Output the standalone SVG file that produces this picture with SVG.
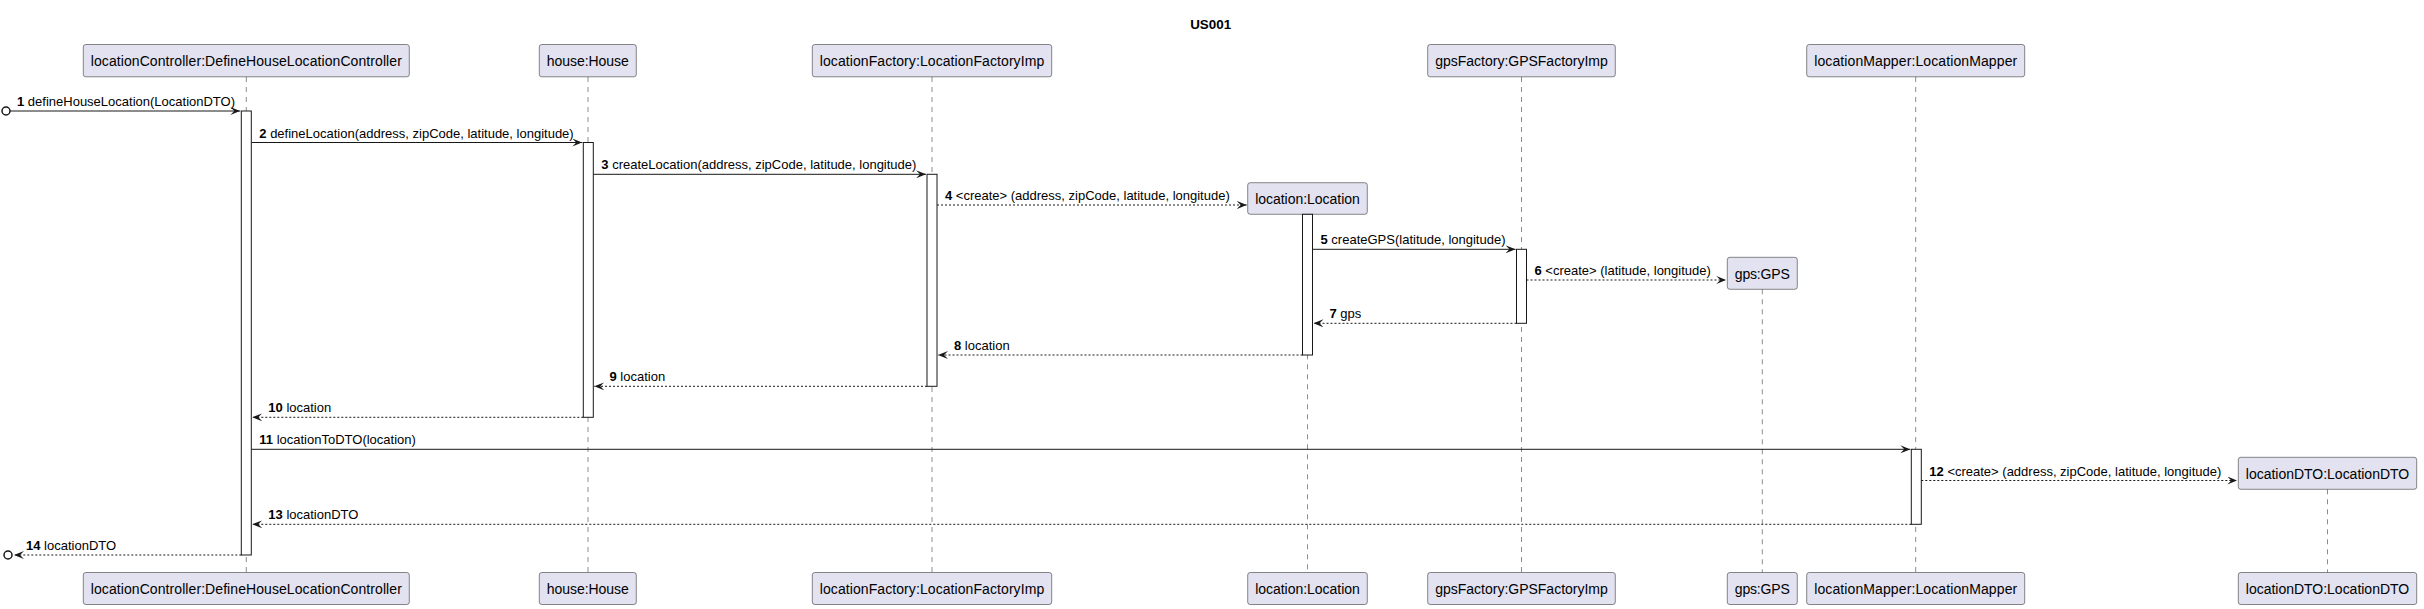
<svg xmlns="http://www.w3.org/2000/svg" width="2424" height="609" viewBox="0 0 2424 609">
<style>
text{font-family:"Liberation Sans",Arial,sans-serif;fill:#000000}
.title{font-size:13px;font-weight:bold}
.pbox{fill:#E2E2F0;stroke:#181818;stroke-width:0.5}
.pname{font-size:14px}
.life{stroke:#181818;stroke-width:0.5;stroke-dasharray:5,5;fill:none}
.act{fill:#FFFFFF;stroke:#181818;stroke-width:1}
.msg{stroke:#181818;stroke-width:1;fill:none}
.ret{stroke:#181818;stroke-width:1;fill:none;stroke-dasharray:2,2}
.lbl{font-size:13px}
.num{font-weight:bold}
.found{fill:none;stroke:#181818;stroke-width:1.5}
</style>
<defs>
<marker id="ah" viewBox="0 0 10 8" refX="10" refY="4" markerWidth="10" markerHeight="8" markerUnits="userSpaceOnUse" orient="auto">
<path d="M0,0 L10,4 L0,8 L4,4 Z" fill="#181818" stroke="none"/>
</marker>
</defs>
<rect width="2424" height="609" fill="#FFFFFF"/>
<text class="title" x="1210.7" y="29.3" text-anchor="middle" textLength="41" lengthAdjust="spacingAndGlyphs">US001</text>

<g id="lifelines">
<line class="life" x1="246.3" y1="77" x2="246.3" y2="572.5"/>
<line class="life" x1="588" y1="77" x2="588" y2="572.5"/>
<line class="life" x1="932" y1="77" x2="932" y2="572.5"/>
<line class="life" x1="1307.5" y1="214.3" x2="1307.5" y2="572.5"/>
<line class="life" x1="1521.5" y1="77" x2="1521.5" y2="572.5"/>
<line class="life" x1="1762.3" y1="289.3" x2="1762.3" y2="572.5"/>
<line class="life" x1="1915.7" y1="77" x2="1915.7" y2="572.5"/>
<line class="life" x1="2327.5" y1="489.3" x2="2327.5" y2="572.5"/>
</g>

<g id="locationController">
<rect class="pbox" x="83.3" y="44.5" width="326" height="32.3" rx="2.5"/>
<text class="pname" x="246.3" y="66.3" text-anchor="middle" textLength="311" lengthAdjust="spacing">locationController:DefineHouseLocationController</text>
<rect class="pbox" x="83.3" y="572.5" width="326" height="32" rx="2.5"/>
<text class="pname" x="246.3" y="594" text-anchor="middle" textLength="311" lengthAdjust="spacing">locationController:DefineHouseLocationController</text>
<rect class="act" x="241.3" y="111" width="10" height="444"/>
</g>

<g id="house">
<rect class="pbox" x="539.3" y="44.5" width="97" height="32.3" rx="2.5"/>
<text class="pname" x="587.8" y="66.3" text-anchor="middle" textLength="82" lengthAdjust="spacing">house:House</text>
<rect class="pbox" x="539.3" y="572.5" width="97" height="32" rx="2.5"/>
<text class="pname" x="587.8" y="594" text-anchor="middle" textLength="82" lengthAdjust="spacing">house:House</text>
<rect class="act" x="583.3" y="142.5" width="10" height="274.8"/>
</g>

<g id="locationFactory">
<rect class="pbox" x="812.3" y="44.5" width="239.4" height="32.3" rx="2.5"/>
<text class="pname" x="932" y="66.3" text-anchor="middle" textLength="224.4" lengthAdjust="spacing">locationFactory:LocationFactoryImp</text>
<rect class="pbox" x="812.3" y="572.5" width="239.4" height="32" rx="2.5"/>
<text class="pname" x="932" y="594" text-anchor="middle" textLength="224.4" lengthAdjust="spacing">locationFactory:LocationFactoryImp</text>
<rect class="act" x="927" y="174.3" width="10" height="212"/>
</g>

<g id="location">
<rect class="pbox" x="1247.7" y="182.7" width="119.6" height="31.6" rx="2.5"/>
<text class="pname" x="1307.5" y="204" text-anchor="middle" textLength="104.6" lengthAdjust="spacing">location:Location</text>
<rect class="pbox" x="1247.7" y="572.5" width="119.6" height="32" rx="2.5"/>
<text class="pname" x="1307.5" y="594" text-anchor="middle" textLength="104.6" lengthAdjust="spacing">location:Location</text>
<rect class="act" x="1302.5" y="214.3" width="10" height="140.7"/>
</g>

<g id="gpsFactory">
<rect class="pbox" x="1427.7" y="44.5" width="187.6" height="32.3" rx="2.5"/>
<text class="pname" x="1521.5" y="66.3" text-anchor="middle" textLength="172.6" lengthAdjust="spacing">gpsFactory:GPSFactoryImp</text>
<rect class="pbox" x="1427.7" y="572.5" width="187.6" height="32" rx="2.5"/>
<text class="pname" x="1521.5" y="594" text-anchor="middle" textLength="172.6" lengthAdjust="spacing">gpsFactory:GPSFactoryImp</text>
<rect class="act" x="1516.5" y="249.3" width="10" height="74"/>
</g>

<g id="gps">
<rect class="pbox" x="1727.3" y="257.3" width="70" height="32" rx="2.5"/>
<text class="pname" x="1762.3" y="279" text-anchor="middle" textLength="55" lengthAdjust="spacing">gps:GPS</text>
<rect class="pbox" x="1727.3" y="572.5" width="70" height="32" rx="2.5"/>
<text class="pname" x="1762.3" y="594" text-anchor="middle" textLength="55" lengthAdjust="spacing">gps:GPS</text>
</g>

<g id="locationMapper">
<rect class="pbox" x="1806.7" y="44.5" width="218" height="32.3" rx="2.5"/>
<text class="pname" x="1915.7" y="66.3" text-anchor="middle" textLength="203" lengthAdjust="spacing">locationMapper:LocationMapper</text>
<rect class="pbox" x="1806.7" y="572.5" width="218" height="32" rx="2.5"/>
<text class="pname" x="1915.7" y="594" text-anchor="middle" textLength="203" lengthAdjust="spacing">locationMapper:LocationMapper</text>
<rect class="act" x="1911.3" y="449.3" width="10" height="75"/>
</g>

<g id="locationDTO">
<rect class="pbox" x="2238.3" y="457.3" width="178.4" height="32" rx="2.5"/>
<text class="pname" x="2327.5" y="479" text-anchor="middle" textLength="163.4" lengthAdjust="spacing">locationDTO:LocationDTO</text>
<rect class="pbox" x="2238.3" y="572.5" width="178.4" height="32" rx="2.5"/>
<text class="pname" x="2327.5" y="594" text-anchor="middle" textLength="163.4" lengthAdjust="spacing">locationDTO:LocationDTO</text>
</g>

<g id="connectors">
<g id="m1">
<circle class="found" cx="6" cy="111" r="4"/>
<line class="msg" x1="10" y1="111" x2="240.3" y2="111" marker-end="url(#ah)"/>
<text class="lbl" x="17" y="106"><tspan class="num">1</tspan> defineHouseLocation(LocationDTO)</text>
</g>
<g id="m2">
<line class="msg" x1="251.3" y1="142.5" x2="582.3" y2="142.5" marker-end="url(#ah)"/>
<text class="lbl" x="259.3" y="137.5"><tspan class="num">2</tspan> defineLocation(address, zipCode, latitude, longitude)</text>
</g>
<g id="m3">
<line class="msg" x1="593.3" y1="174.3" x2="926" y2="174.3" marker-end="url(#ah)"/>
<text class="lbl" x="601.3" y="169.3"><tspan class="num">3</tspan> createLocation(address, zipCode, latitude, longitude)</text>
</g>
<g id="m4">
<line class="ret" x1="937" y1="205" x2="1246.7" y2="205" marker-end="url(#ah)"/>
<text class="lbl" x="945" y="200"><tspan class="num">4</tspan> &lt;create&gt; (address, zipCode, latitude, longitude)</text>
</g>
<g id="m5">
<line class="msg" x1="1312.5" y1="249.3" x2="1515.5" y2="249.3" marker-end="url(#ah)"/>
<text class="lbl" x="1320.5" y="244.3"><tspan class="num">5</tspan> createGPS(latitude, longitude)</text>
</g>
<g id="m6">
<line class="ret" x1="1526.5" y1="280" x2="1726.3" y2="280" marker-end="url(#ah)"/>
<text class="lbl" x="1534.5" y="275"><tspan class="num">6</tspan> &lt;create&gt; (latitude, longitude)</text>
</g>
<g id="m7">
<line class="ret" x1="1516.5" y1="323.3" x2="1313.5" y2="323.3" marker-end="url(#ah)"/>
<text class="lbl" x="1329.5" y="318.3"><tspan class="num">7</tspan> gps</text>
</g>
<g id="m8">
<line class="ret" x1="1302.5" y1="355" x2="938" y2="355" marker-end="url(#ah)"/>
<text class="lbl" x="954" y="350"><tspan class="num">8</tspan> location</text>
</g>
<g id="m9">
<line class="ret" x1="927" y1="386.3" x2="594.3" y2="386.3" marker-end="url(#ah)"/>
<text class="lbl" x="609.5" y="381.3"><tspan class="num">9</tspan> location</text>
</g>
<g id="m10">
<line class="ret" x1="583.3" y1="417.3" x2="252.3" y2="417.3" marker-end="url(#ah)"/>
<text class="lbl" x="268.3" y="412.3"><tspan class="num">10</tspan> location</text>
</g>
<g id="m11">
<line class="msg" x1="251.3" y1="449.3" x2="1910.3" y2="449.3" marker-end="url(#ah)"/>
<text class="lbl" x="259.3" y="444.3"><tspan class="num">11</tspan> locationToDTO(location)</text>
</g>
<g id="m12">
<line class="ret" x1="1921.3" y1="480.5" x2="2237.3" y2="480.5" marker-end="url(#ah)"/>
<text class="lbl" x="1929.3" y="475.5"><tspan class="num">12</tspan> &lt;create&gt; (address, zipCode, latitude, longitude)</text>
</g>
<g id="m13">
<line class="ret" x1="1911.3" y1="524.3" x2="252.3" y2="524.3" marker-end="url(#ah)"/>
<text class="lbl" x="268.3" y="519.3"><tspan class="num">13</tspan> locationDTO</text>
</g>
<g id="m14">
<line class="ret" x1="241.3" y1="555" x2="14" y2="555" marker-end="url(#ah)"/>
<circle class="found" cx="8" cy="555" r="4"/>
<text class="lbl" x="26" y="550"><tspan class="num">14</tspan> locationDTO</text>
</g>
</g>
</svg>
